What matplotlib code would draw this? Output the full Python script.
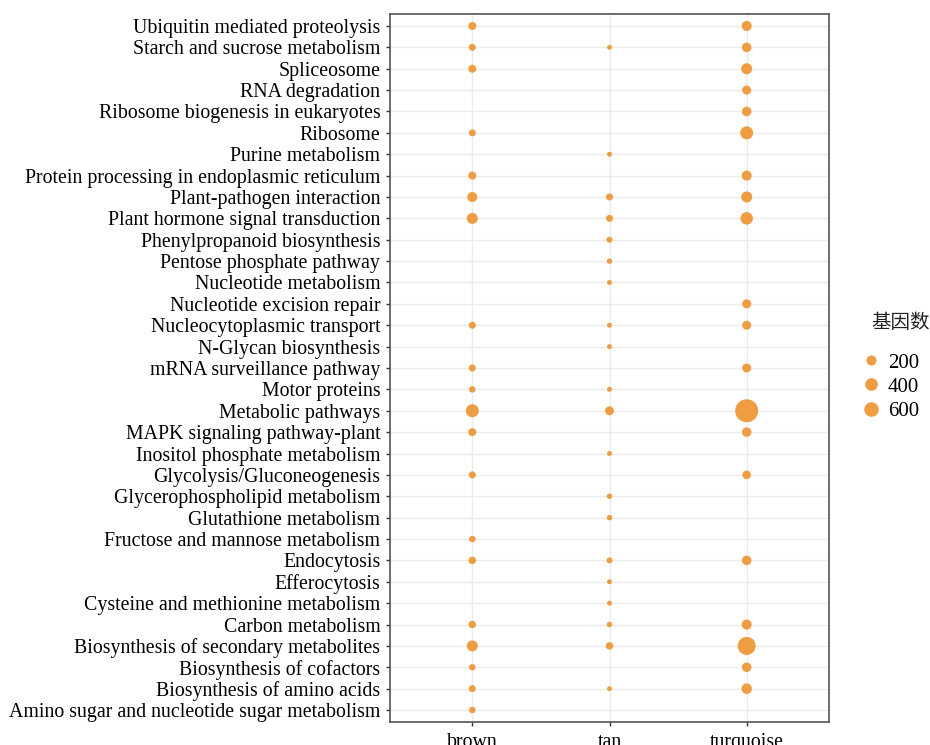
import numpy as np
import matplotlib.pyplot as plt
from matplotlib.lines import Line2D

# KEGG pathways, top to bottom
pathways = [
    "Ubiquitin mediated proteolysis",
    "Starch and sucrose metabolism",
    "Spliceosome",
    "RNA degradation",
    "Ribosome biogenesis in eukaryotes",
    "Ribosome",
    "Purine metabolism",
    "Protein processing in endoplasmic reticulum",
    "Plant-pathogen interaction",
    "Plant hormone signal transduction",
    "Phenylpropanoid biosynthesis",
    "Pentose phosphate pathway",
    "Nucleotide metabolism",
    "Nucleotide excision repair",
    "Nucleocytoplasmic transport",
    "N-Glycan biosynthesis",
    "mRNA surveillance pathway",
    "Motor proteins",
    "Metabolic pathways",
    "MAPK signaling pathway-plant",
    "Inositol phosphate metabolism",
    "Glycolysis/Gluconeogenesis",
    "Glycerophospholipid metabolism",
    "Glutathione metabolism",
    "Fructose and mannose metabolism",
    "Endocytosis",
    "Efferocytosis",
    "Cysteine and methionine metabolism",
    "Carbon metabolism",
    "Biosynthesis of secondary metabolites",
    "Biosynthesis of cofactors",
    "Biosynthesis of amino acids",
    "Amino sugar and nucleotide sugar metabolism",
]

modules = ["brown", "tan", "turquoise"]

# gene counts per module (0 = pathway not enriched)
brown = [87, 49, 87, 0, 0, 49, 0, 87, 195, 265, 0, 0, 0, 0, 49, 0, 49, 34,
         438, 87, 0, 49, 0, 0, 34, 66, 0, 0, 66, 265, 34, 49, 34]
tan = [0, 5, 0, 0, 0, 0, 5, 0, 49, 49, 22, 12, 5, 0, 5, 5, 0, 5,
       135, 0, 5, 0, 12, 12, 0, 22, 5, 5, 12, 66, 0, 5, 0]
turquoise = [195, 164, 265, 135, 164, 438, 0, 195, 265, 391, 0, 0, 0, 135, 135, 0, 135, 0,
             1950, 164, 0, 110, 0, 0, 0, 164, 0, 0, 195, 1060, 164, 228, 0]

legend_counts = [200, 400, 600]

dot_color = "#EE9D42"


def marker_area(count):
    # diameter in pixels grows with sqrt(count); convert to points^2
    d_px = 4 + 0.43 * np.sqrt(np.asarray(count, dtype=float))
    return (d_px * 0.72) ** 2


plt.rcParams["font.family"] = ["Liberation Serif", "DejaVu Serif"]

fig = plt.figure(figsize=(9.3, 7.45), dpi=100)
ax = fig.add_axes([390 / 930, 23 / 745, 439 / 930, 708 / 745])

ys = np.arange(len(pathways))
for i, counts in enumerate([brown, tan, turquoise]):
    counts = np.array(counts)
    keep = counts > 0
    ax.scatter(np.full(keep.sum(), i), ys[keep], s=marker_area(counts[keep]),
               color=dot_color, edgecolors="none", zorder=3)

ax.set_xlim(-0.6, 2.6)
ax.set_ylim(len(pathways) - 0.44, -0.56)
ax.set_xticks(range(len(modules)))
ax.set_xticklabels(modules, fontsize=14.3)
ax.set_yticks(ys)
ax.set_yticklabels(pathways, fontsize=14.3)
ax.tick_params(length=3, width=1, color="#333333", pad=4)
ax.tick_params(axis="x", pad=5)
ax.grid(True, color="#EBEBEB", linewidth=1)
ax.set_axisbelow(True)
for sp in ax.spines.values():
    sp.set_color("#555555")
    sp.set_linewidth(1.2)

# size legend
fig.text(871 / 930, 1 - 323 / 745, "基因数", fontsize=14, va="center", ha="left",
         family=["Noto Sans CJK SC"], color="#222222")
handles = [Line2D([], [], linestyle="none", marker="o", color=dot_color,
                  markeredgewidth=0, markersize=np.sqrt(marker_area(c)))
           for c in legend_counts]
fig.legend(handles, [str(c) for c in legend_counts],
           loc="upper left", bbox_to_anchor=(862 / 930, 1 - 353 / 745),
           frameon=False, fontsize=15, handletextpad=0.35, borderpad=0,
           labelspacing=0.22, handlelength=0.9, borderaxespad=0)

fig.savefig("out.png", dpi=100)
